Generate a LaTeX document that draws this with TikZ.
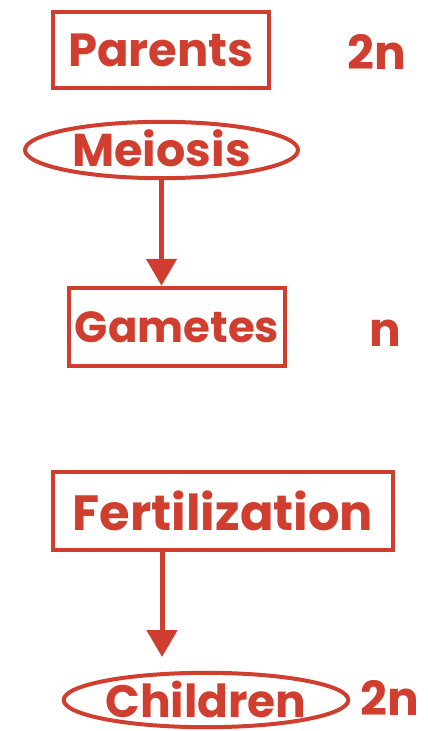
\documentclass[tikz,border=0pt]{standalone}
\usepackage{fontspec}
\setmainfont{Poppins}
\usetikzlibrary{arrows.meta,shapes.geometric}
\definecolor{bred}{RGB}{208,62,48}
\newcommand{\fsz}[1]{\fontsize{#1}{#1}\selectfont\bfseries}
\begin{document}
\begin{tikzpicture}[x=1pt,y=-1pt,
  txt/.style={text=bred,font=\fsz{47},inner sep=0pt},
  boxn/.style={txt,draw=bred,line width=4.5pt,rectangle},
  ovaln/.style={txt,draw=bred,line width=4pt,ellipse},
  conn/.style={draw=bred,line width=5pt,-{Triangle[width=30pt,length=27pt]}}]
\useasboundingbox (0,0) rectangle (428,731);
\node[boxn,font=\fsz{46.5},minimum width=216pt,minimum height=76pt] (parents) at (161,50) {Parents};
\node[txt] (l1) at (377,52) {2n};
\node[ovaln,font=\fsz{46},minimum width=273pt,minimum height=56pt] (meiosis) at (161.5,150) {\raisebox{3pt}{Meiosis}};
\node[boxn,font=\fsz{43.5},minimum width=216pt,minimum height=78pt] (gametes) at (177,327) {Gametes};
\node[txt] (l2) at (385,333) {n};
\node[boxn,font=\fsz{49.5},minimum width=340pt,minimum height=78pt] (fert) at (223,511) {Fertilization};
\node[ovaln,font=\fsz{45.5},minimum width=268pt,minimum height=53pt] (children) at (206,700) {\raisebox{2pt}{Children}};
\node[txt] (l3) at (390,698) {2n};
\coordinate (tip2) at (162,657);
\draw[conn] (meiosis.south) -- (meiosis.south |- gametes.north);
\draw[conn] (tip2 |- fert.south) -- (tip2);
\end{tikzpicture}
\end{document}
